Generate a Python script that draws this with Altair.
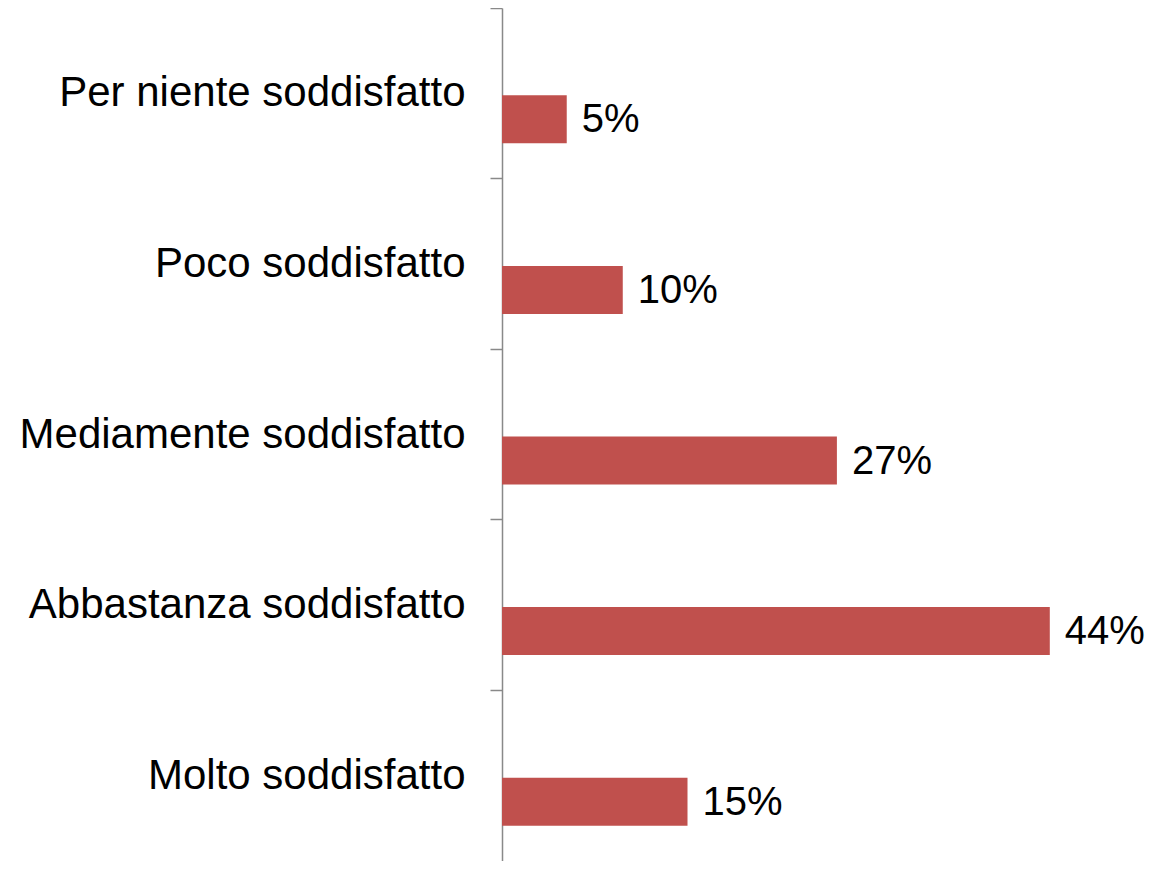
import altair as alt
import pandas as pd

categories = [
    "Per niente soddisfatto",
    "Poco soddisfatto",
    "Mediamente soddisfatto",
    "Abbastanza soddisfatto",
    "Molto soddisfatto",
]
values = [5.2, 9.7, 26.9, 44.0, 14.9]
labels = ["5%", "10%", "27%", "44%", "15%"]

df = pd.DataFrame({"cat": categories, "val": values, "lab": labels})

W = 645
H = 853
PX_PER_PCT = 12.45
FONT = "Liberation Sans"
AXIS_GREY = "#898989"

xscale = alt.Scale(domain=[0, W / PX_PER_PCT], nice=False, zero=True)
yscale = alt.Scale(domain=categories, paddingInner=0, paddingOuter=0)

base = alt.Chart(df)

bars = base.mark_bar(color="#C0504D", size=48, yOffset=26).encode(
    x=alt.X("val:Q", scale=xscale, axis=None),
    y=alt.Y(
        "cat:N",
        scale=yscale,
        sort=categories,
        axis=alt.Axis(
            title=None,
            orient="left",
            domain=False,
            ticks=False,
            tickSize=0,
            labelFontSize=42,
            labelFont=FONT,
            labelColor="black",
            labelPadding=37,
            labelLimit=0,
        ),
    ),
)

text = base.mark_text(
    align="left",
    baseline="middle",
    dx=15,
    yOffset=27,
    fontSize=40,
    font=FONT,
    color="black",
).encode(
    x=alt.X("val:Q", scale=xscale, axis=None),
    y=alt.Y(
        "cat:N",
        scale=yscale,
        sort=categories,
        axis=alt.Axis(
            title=None,
            orient="left",
            bandPosition=0,
            labels=False,
            tickSize=12,
            tickColor=AXIS_GREY,
            tickWidth=1.5,
            domainColor=AXIS_GREY,
            domainWidth=1.5,
        ),
    ),
    text="lab:N",
)

chart = (
    alt.layer(bars, text)
    .resolve_axis(y="independent")
    .properties(
        width=W,
        height=H,
        autosize=alt.AutoSizeParams(type="none"),
        padding={"left": 494, "top": 0, "right": 0, "bottom": 0},
    )
    .configure_view(stroke=None)
)

chart.save("out.html", embed_options={"renderer": "svg", "actions": False})
